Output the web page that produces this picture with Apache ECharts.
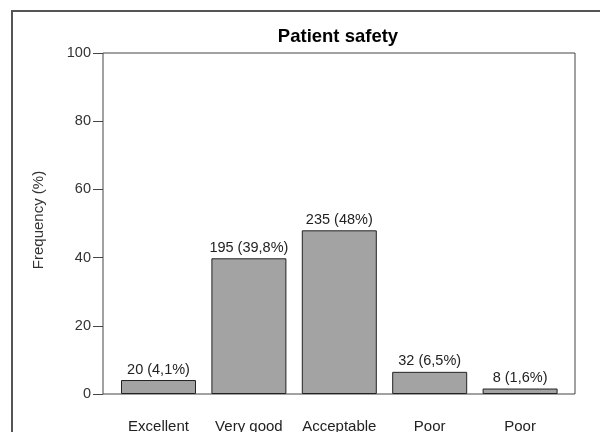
<!DOCTYPE html>
<html>
<head>
<meta charset="utf-8">
<script src="https://cdn.jsdelivr.net/npm/echarts@6/dist/echarts.min.js"></script>
<style>
  html, body { margin: 0; padding: 0; background: #fff; }
  #chart { width: 600px; height: 432px; }
</style>
</head>
<body>
<div id="chart"></div>
<script>
const categories = ['Excellent', 'Very good', 'Acceptable', 'Poor', 'Poor'];
const counts = [20, 195, 235, 32, 8];
const percents = [4.1, 39.8, 48, 6.5, 1.6];
const percentText = ['4,1', '39,8', '48', '6,5', '1,6'];
const yTicks = [0, 20, 40, 60, 80, 100];

const FONT = '"Liberation Sans", Arial, sans-serif';
const chart = echarts.init(document.getElementById('chart'));

const option = {
  animation: false,
  backgroundColor: '#fff',
  textStyle: { fontFamily: FONT },
  graphic: [
    {
      type: 'rect',
      shape: { x: 12, y: 11, width: 620, height: 460 },
      style: { fill: 'none', stroke: '#555', lineWidth: 2 },
      silent: true
    },
    {
      // title
      type: 'text',
      x: 338,
      y: 36.5,
      style: {
        text: 'Patient safety',
        fontFamily: FONT,
        fontSize: 18.5,
        fontWeight: 'bold',
        fill: '#000',
        align: 'center',
        verticalAlign: 'middle'
      }
    },
    {
      type: 'text',
      x: 39,
      y: 220,
      rotation: Math.PI / 2,
      style: {
        text: 'Frequency (%)',
        fontFamily: FONT,
        fontSize: 15,
        fill: '#333',
        align: 'center',
        verticalAlign: 'middle'
      }
    }
  ],
  grid: [
    // frame box
    { left: 103, top: 53, width: 472, height: 341, show: true, borderColor: '#444', borderWidth: 1, containLabel: false, outerBoundsMode: 'none' },
    // bars area
    { left: 113.3, top: 53, width: 452, height: 341, containLabel: false, outerBoundsMode: 'none' }
  ],
  xAxis: [
    { gridIndex: 0, type: 'value', min: 0, max: 1, show: false },
    {
      gridIndex: 1,
      type: 'category',
      data: categories,
      axisLine: { show: false },
      axisTick: { show: false },
      axisLabel: { fontFamily: FONT, fontSize: 15, color: '#222', margin: 25, interval: 0 }
    }
  ],
  yAxis: [
    {
      gridIndex: 0,
      type: 'value',
      min: 0,
      max: 100,
      interval: 20,
      axisLine: { show: false },
      axisTick: { show: true, length: 10, lineStyle: { color: '#444' } },
      axisLabel: {
        fontFamily: FONT, fontSize: 14.5, color: '#333', margin: 12,
        formatter: v => (yTicks.indexOf(v) >= 0 ? String(v) : '')
      },
      splitLine: { show: false }
    },
    { gridIndex: 1, type: 'value', min: 0, max: 100, show: false }
  ],
  series: [
    {
      type: 'bar',
      xAxisIndex: 1,
      yAxisIndex: 1,
      barWidth: 75,
      data: percents,
      itemStyle: { color: '#a3a3a3', borderColor: '#222', borderWidth: 1 },
      label: {
        show: true,
        position: 'top',
        distance: 3,
        fontFamily: FONT,
        fontSize: 14.5,
        color: '#222',
        formatter: p => counts[p.dataIndex] + ' (' + percentText[p.dataIndex] + '%)'
      }
    }
  ]
};

chart.setOption(option);
</script>
</body>
</html>
